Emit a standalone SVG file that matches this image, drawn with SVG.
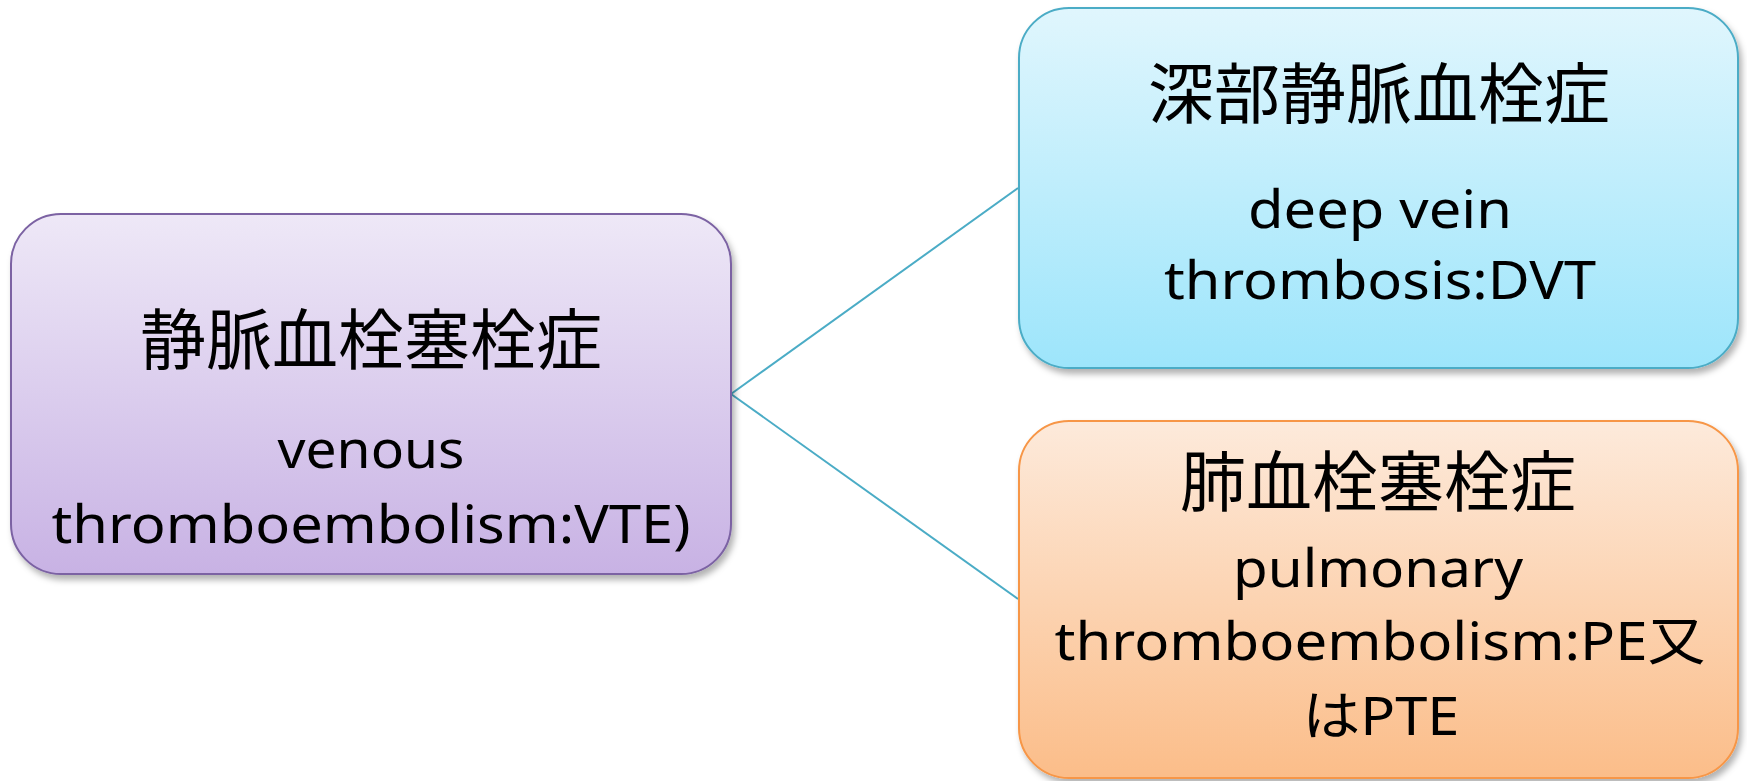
<svg xmlns="http://www.w3.org/2000/svg" width="1747" height="781" viewBox="0 0 1747 781">
<defs>
<linearGradient id="gPurple" x1="0" y1="0" x2="0" y2="1"><stop offset="0" stop-color="#eee8f7"/><stop offset="1" stop-color="#c8b2e4"/></linearGradient>
<linearGradient id="gBlue" x1="0" y1="0" x2="0" y2="1"><stop offset="0" stop-color="#e0f6fd"/><stop offset="1" stop-color="#9de5fb"/></linearGradient>
<linearGradient id="gOrange" x1="0" y1="0" x2="0" y2="1"><stop offset="0" stop-color="#fdeadb"/><stop offset="1" stop-color="#fbbd89"/></linearGradient>
<filter id="sh" x="-5%" y="-5%" width="112%" height="115%"><feDropShadow dx="3" dy="5" stdDeviation="3" flood-color="#000" flood-opacity="0.3"/></filter>
</defs>
<style>
.box{stroke-width:2;filter:url(#sh)}
.cjk{font-family:"Noto Sans CJK JP","Noto Sans CJK SC",sans-serif;font-size:66px;fill:#000;text-anchor:middle}
.en{font-family:"Noto Sans","Noto Sans CJK JP",sans-serif;font-size:53px;fill:#000;text-anchor:middle}
.conn{stroke:#4bacc6;stroke-width:2;fill:none}
</style>
<rect width="1747" height="781" fill="#fff"/>
<g id="connectors">
<line class="conn" x1="731" y1="394" x2="1018" y2="188"/>
<line class="conn" x1="731" y1="394" x2="1018" y2="599"/>
</g>
<g id="vte">
<rect class="box" x="11" y="214" width="720" height="360" rx="50" fill="url(#gPurple)" stroke="#7b62a3"/>
<text class="cjk" x="371" y="364">静脈血栓塞栓症</text>
<text class="en" x="371" y="468" textLength="187" lengthAdjust="spacingAndGlyphs">venous</text>
<text class="en" x="371" y="543" textLength="639" lengthAdjust="spacingAndGlyphs">thromboembolism:VTE)</text>
</g>
<g id="dvt">
<rect class="box" x="1019" y="8" width="719" height="360" rx="50" fill="url(#gBlue)" stroke="#4bacc6"/>
<text class="cjk" x="1379" y="118">深部静脈血栓症</text>
<text class="en" x="1380" y="228" textLength="264" lengthAdjust="spacingAndGlyphs">deep vein</text>
<text class="en" x="1380" y="299" textLength="432" lengthAdjust="spacingAndGlyphs">thrombosis:DVT</text>
</g>
<g id="pe">
<rect class="box" x="1019" y="421" width="719" height="357" rx="50" fill="url(#gOrange)" stroke="#f79646"/>
<text class="cjk" x="1378" y="506">肺血栓塞栓症</text>
<text class="en" x="1378" y="587" textLength="290" lengthAdjust="spacingAndGlyphs">pulmonary</text>
<text class="en" x="1380" y="660" textLength="651" lengthAdjust="spacingAndGlyphs">thromboembolism:PE又</text>
<text class="en" x="1381" y="735" textLength="157" lengthAdjust="spacingAndGlyphs">はPTE</text>
</g>
</svg>
